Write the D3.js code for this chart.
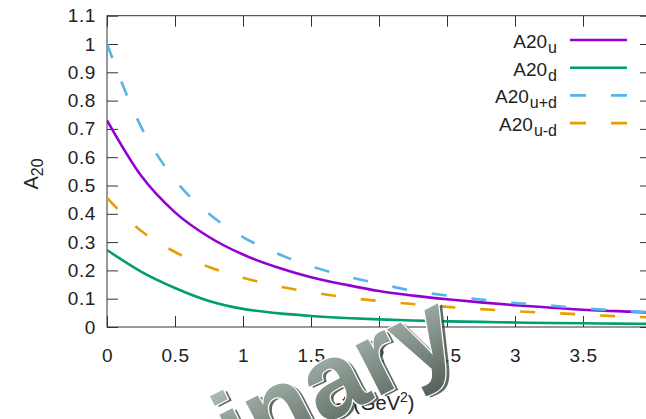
<!DOCTYPE html>
<html>
<head>
<meta charset="utf-8">
<script src="https://cdn.jsdelivr.net/npm/d3@7"></script>
<style>
  body { margin: 0; background: #fff; }
  svg { display: block; font-family: "Liberation Sans", Arial, sans-serif; }
</style>
</head>
<body>
<figure id="chart" style="margin:0"></figure>
<script>
// values, -t from 0 to 4 in steps of 0.25
const tValues = [0, 0.25, 0.5, 0.75, 1, 1.25, 1.5, 1.75, 2, 2.25, 2.5, 2.75, 3, 3.25, 3.5, 3.75, 4];
const a20u    = [0.73, 0.535, 0.405, 0.318, 0.256, 0.211, 0.176, 0.150, 0.127, 0.111, 0.098, 0.087, 0.077, 0.069, 0.061, 0.056, 0.051];
const a20d    = [0.272, 0.196, 0.138, 0.092, 0.064, 0.049, 0.039, 0.032, 0.027, 0.023, 0.020, 0.018, 0.016, 0.014, 0.013, 0.012, 0.011];
const a20upd  = [1.0, 0.708, 0.52, 0.40, 0.318, 0.26, 0.215, 0.18, 0.153, 0.128, 0.111, 0.097, 0.085, 0.076, 0.066, 0.058, 0.052];
const a20umd  = [0.456, 0.34, 0.265, 0.212, 0.174, 0.145, 0.123, 0.105, 0.092, 0.081, 0.071, 0.063, 0.056, 0.050, 0.044, 0.038, 0.034];

const xTicks = [0, 0.5, 1, 1.5, 2, 2.5, 3, 3.5, 4];
const xLabels = [0, 0.5, 1, 1.5, 2, 2.5, 3, 3.5];
const yTicks = [0, 0.1, 0.2, 0.3, 0.4, 0.5, 0.6, 0.7, 0.8, 0.9, 1, 1.1];

const seriesNames = ["u", "d", "u+d", "u-d"];

const width = 646, height = 419;
const plotL = 107, plotR = 651, plotT = 15.7, plotB = 327;

const svg = d3.select("figure#chart")
  .append("svg")
  .attr("width", width)
  .attr("height", height);

const x = d3.scaleLinear().domain([0, 4]).range([plotL, plotR]);
const y = d3.scaleLinear().domain([0, 1.1]).range([plotB, plotT]);

// clip for the curves
svg.append("clipPath").attr("id", "plotclip")
  .append("rect")
  .attr("x", plotL).attr("y", plotT)
  .attr("width", plotR - plotL).attr("height", plotB - plotT);

// axes, gnuplot style: ticks inside, mirrored
const axisColor = "#333";
const gx = svg.append("g")
  .attr("transform", "translate(0," + plotB + ")")
  .call(d3.axisBottom(x).tickValues(xTicks).tickSize(-11).tickPadding(22)
    .tickFormat(d => xLabels.includes(d) ? d3.format("")(d) : ""));
const gy = svg.append("g")
  .attr("transform", "translate(" + plotL + ",0)")
  .call(d3.axisLeft(y).tickValues(yTicks).tickSize(-11).tickPadding(11)
    .tickFormat(d3.format("")));
const gt = svg.append("g")
  .attr("transform", "translate(0," + plotT + ")")
  .call(d3.axisTop(x).tickValues(xTicks).tickSize(-11).tickFormat(""));
const gr = svg.append("g")
  .attr("transform", "translate(" + plotR + ",0)")
  .call(d3.axisRight(y).tickValues(yTicks).tickSize(-11).tickFormat(""));

[gx, gy, gt, gr].forEach(g => {
  g.select(".domain").remove();
  g.selectAll(".tick line").attr("stroke", axisColor);
  g.selectAll(".tick text")
    .attr("fill", "#222")
    .style("font-size", "19px")
    .style("letter-spacing", "0.6px")
    .style("font-family", "'Liberation Sans', Arial, sans-serif");
});

svg.append("rect")
  .attr("x", plotL).attr("y", plotT)
  .attr("width", plotR - plotL).attr("height", plotB - plotT)
  .attr("fill", "none")
  .attr("stroke", axisColor)
  .attr("stroke-width", 1);

// curves
const series = [
  { vals: a20u,   color: "#9400d3", dash: null },
  { vals: a20d,   color: "#009e73", dash: null },
  { vals: a20upd, color: "#56b4e9", dash: "15,25" },
  { vals: a20umd, color: "#e69f00", dash: "15,25" }
];

const line = d3.line()
  .curve(d3.curveMonotoneX)
  .x(d => x(d[0]))
  .y(d => y(d[1]));

const plot = svg.append("g").attr("clip-path", "url(#plotclip)");
series.forEach(s => {
  plot.append("path")
    .datum(tValues.map((t, i) => [t, s.vals[i]]))
    .attr("fill", "none")
    .attr("stroke", s.color)
    .attr("stroke-width", 2.6)
    .attr("stroke-dasharray", s.dash)
    .attr("d", line);
});

// legend
const legend = svg.append("g");
series.forEach((s, i) => {
  const ly = 40 + i * 27.7;
  const txt = legend.append("text")
    .attr("x", 557).attr("y", ly + 8)
    .attr("text-anchor", "end")
    .attr("fill", "#222")
    .style("font-size", "19px");
  txt.append("tspan").text("A20");
  txt.append("tspan").attr("dy", 5).attr("dx", 1).style("font-size", "16px").text(seriesNames[i]);
  legend.append("line")
    .attr("x1", 570).attr("x2", 627)
    .attr("y1", ly).attr("y2", ly)
    .attr("stroke", s.color)
    .attr("stroke-width", 2.6)
    .attr("stroke-dasharray", s.dash ? "16,25" : null);
});

// axis titles
const ylab = svg.append("text")
  .attr("transform", "translate(38,174) rotate(-90)")
  .attr("text-anchor", "middle")
  .attr("fill", "#222")
  .style("font-size", "20px");
ylab.append("tspan").text("A");
ylab.append("tspan").attr("dy", 5).style("font-size", "16px").text("20");

const xlab = svg.append("text")
  .attr("x", 375).attr("y", 410)
  .attr("text-anchor", "middle")
  .attr("fill", "#222")
  .style("font-size", "20px");
xlab.append("tspan").text("-t (GeV");
xlab.append("tspan").attr("dy", -8).style("font-size", "14px").text("2");
xlab.append("tspan").attr("dy", 8).text(")");

// "Preliminary" stamp across the lower part
const defs = svg.append("defs");
const grad = defs.append("linearGradient").attr("id", "stampgrad")
  .attr("x1", 0).attr("y1", 0).attr("x2", 0).attr("y2", 1);
grad.append("stop").attr("offset", "0%").attr("stop-color", "#bccbc3");
grad.append("stop").attr("offset", "100%").attr("stop-color", "#54625a");

const stamp = svg.append("g")
  .attr("transform", "translate(464,353) rotate(-27)")
  .style("font-family", "'Liberation Sans', Arial, sans-serif")
  .style("font-weight", "bold")
  .style("font-size", "106px");
stamp.append("text")
  .attr("x", 3).attr("y", 3)
  .attr("text-anchor", "end")
  .attr("fill", "#3a463f")
  .attr("opacity", 0.8)
  .text("Preliminary");
stamp.append("text")
  .attr("text-anchor", "end")
  .attr("fill", "url(#stampgrad)")
  .attr("stroke", "#fff")
  .attr("stroke-width", 2.5)
  .attr("stroke-linejoin", "round")
  .attr("paint-order", "stroke")
  .text("Preliminary");
</script>
</body>
</html>
